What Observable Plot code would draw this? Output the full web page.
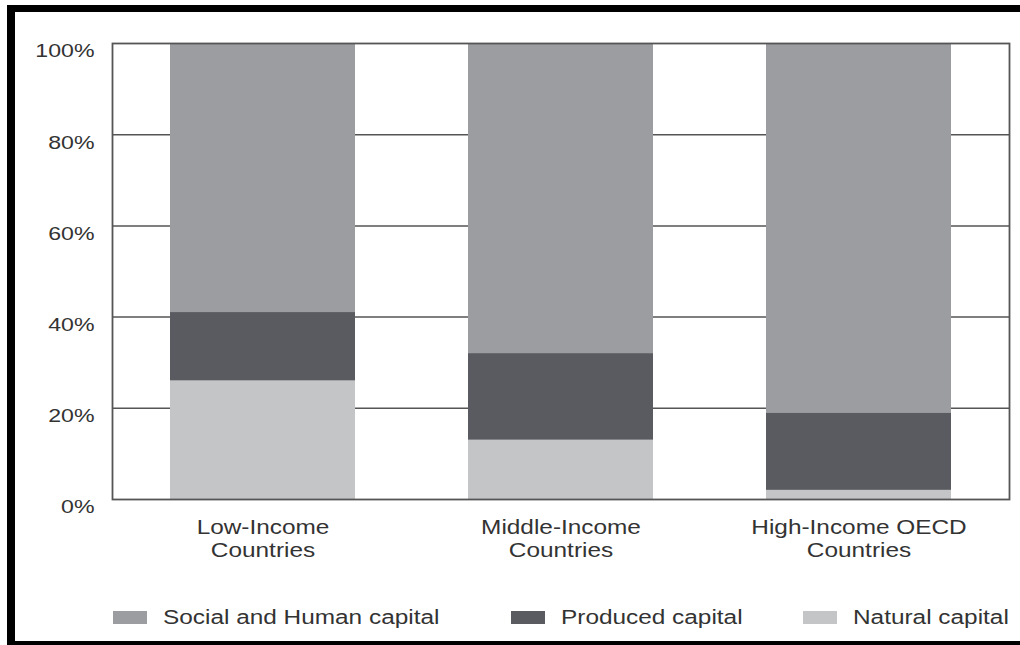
<!DOCTYPE html>
<html>
<head>
<meta charset="utf-8">
<script src="https://cdn.jsdelivr.net/npm/d3@7"></script>
<script src="https://cdn.jsdelivr.net/npm/@observablehq/plot@0.6"></script>
<style>
  html, body { margin: 0; padding: 0; background: #fff; }
  #wrap { position: relative; width: 1020px; height: 645px; overflow: hidden; font-family: "Liberation Sans", Arial, sans-serif; }
  #border { position: absolute; left: 7px; top: 5px; width: 1013px; height: 640px; box-sizing: border-box;
            border-left: 8px solid #000; border-top: 7px solid #000; border-bottom: 4px solid #000; }
  #chart { position: absolute; left: 0; top: 0; }
  .lg-sw { position: absolute; width: 34px; height: 13px; top: 611px; }
  .lg-tx { position: absolute; top: 608px; font-size: 19.5px; line-height: 1; color: #333; white-space: nowrap;
           transform: scaleX(1.25); transform-origin: left center; }
</style>
</head>
<body>
<div id="wrap">
  <div id="border"></div>
  <div id="chart"></div>
  <div id="legend"></div>
</div>
<script>
// ---- data ----
const categories = ["Low-Income\nCountries", "Middle-Income\nCountries", "High-Income OECD\nCountries"];
const seriesNames = ["Natural capital", "Produced capital", "Social and Human capital"];
const naturalCapital = [26, 13, 2];
const producedCapital = [15, 19, 17];
const socialHumanCapital = [59, 68, 81];
const yTicks = [0, 20, 40, 60, 80, 100];
const legendOrder = ["Social and Human capital", "Produced capital", "Natural capital"];

// ---- styles ----
const seriesColors = ["#c4c5c7", "#5a5b60", "#9c9da1"];
const legendLeft = [113, 511, 803];
const stretch = 1.25;

const valuesBySeries = [naturalCapital, producedCapital, socialHumanCapital];
const data = seriesNames.flatMap((s, i) =>
  categories.map((c, j) => ({category: c, series: s, value: valuesBySeries[i][j]}))
);

const chart = Plot.plot({
  width: 1020,
  height: 575,
  marginLeft: 112,
  marginTop: 43,
  marginRight: 11,
  marginBottom: 76,
  style: {fontFamily: "'Liberation Sans', Arial, sans-serif", background: "transparent", color: "#333"},
  x: {domain: categories, paddingInner: 0.378, paddingOuter: 0.19, label: null},
  y: {domain: [0, 100], label: null},
  color: {domain: seriesNames, range: seriesColors},
  marks: [
    Plot.ruleY(yTicks.filter(d => d > 0 && d < 100), {stroke: "#555", strokeWidth: 1.5}),
    Plot.barY(data, {x: "category", y: "value", fill: "series", order: seriesNames}),
    Plot.frame({stroke: "#555", strokeWidth: 1.8}),
    Plot.axisY(yTicks, {tickSize: 0, tickPadding: 18, fontSize: 18.5, dy: 8, tickFormat: d => d + "%", fill: "#333"}),
    Plot.axisX({tickSize: 0, tickPadding: 19, fontSize: 19.5, lineHeight: 1.15, fill: "#333"})
  ]
});
document.getElementById("chart").appendChild(chart);

// horizontally stretch text glyphs to match the reference's wide lettering
chart.querySelectorAll("text").forEach(t => {
  const spans = t.querySelectorAll("tspan");
  const targets = spans.length ? Array.from(spans) : [t];
  targets.forEach(el => {
    const w = el.getComputedTextLength();
    if (w > 0) {
      el.setAttribute("textLength", (w * stretch).toFixed(2));
      el.setAttribute("lengthAdjust", "spacingAndGlyphs");
    }
  });
});

// legend
const legend = document.getElementById("legend");
legendOrder.forEach((name, i) => {
  const sw = document.createElement("div");
  sw.className = "lg-sw";
  sw.style.left = legendLeft[i] + "px";
  sw.style.background = seriesColors[seriesNames.indexOf(name)];
  legend.appendChild(sw);
  const tx = document.createElement("div");
  tx.className = "lg-tx";
  tx.style.left = (legendLeft[i] + 50) + "px";
  tx.textContent = name;
  legend.appendChild(tx);
});
</script>
</body>
</html>
